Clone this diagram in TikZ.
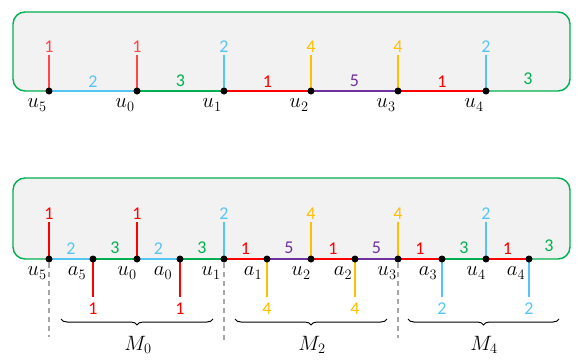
\documentclass[tikz,border=0pt]{standalone}
\usepackage{fontspec}
\newfontfamily\numfont{Carlito}
\usetikzlibrary{decorations.pathreplacing,calc}
\definecolor{cred}{HTML}{FF0000}
\definecolor{clred}{HTML}{FF4545}
\definecolor{cblue}{HTML}{55C6F2}
\definecolor{cgreen}{HTML}{00B050}
\definecolor{cgold}{HTML}{FFC000}
\definecolor{cpurple}{HTML}{7030A0}
\definecolor{cfill}{HTML}{F2F2F2}
\begin{document}
\begin{tikzpicture}[x=1pt,y=-1pt,
  panel/.style={draw=cgreen,fill=cfill,line width=1.4pt,rounded corners=12pt},
  edge/.style={line width=2pt},
  vtx/.style={circle,fill=black,inner sep=0pt,minimum size=7pt},
  num/.style={font=\numfont\fontsize{18}{21}\selectfont,inner sep=1pt},
  vlab/.style={font=\fontsize{19.5}{22}\selectfont,inner sep=0pt},
  sepline/.style={gray!70,line width=1.3pt,dash pattern=on 5pt off 4pt},
  brc/.style={decorate,decoration={brace,mirror,amplitude=6pt},line width=1pt}]
\useasboundingbox (0,0) rectangle (583,359);

% ---------- top panel ----------
\draw[panel] (13,91) rectangle (570,12);
\foreach \n/\x in {u5/49,u0/137,u1/224,u2/311,u3/398,u4/486}{
  \coordinate (T\n) at (\x,91);
  \coordinate (T\n s) at (\x,55);
}
\draw[edge,cblue] (Tu5) -- (Tu0) node[midway,above=2pt,num]{2};
\draw[edge,cgreen] (Tu0) -- (Tu1) node[midway,above=2pt,num]{3};
\draw[edge,cred] (Tu1) -- (Tu2) node[midway,above=2pt,num]{1};
\draw[edge,cpurple] (Tu2) -- (Tu3) node[midway,above=2pt,num]{5};
\draw[edge,cred] (Tu3) -- (Tu4) node[midway,above=2pt,num]{1};
\node[num,text=cgreen] (T3r) at (528,79) {3};
\foreach \n/\c/\l in {u5/clred/1,u0/clred/1,u1/cblue/2,u2/cgold/4,u3/cgold/4,u4/cblue/2}{
  \draw[edge,\c] (T\n) -- (T\n s) node[above=1pt,num,text=\c]{\l};
}
\foreach \n/\t in {u5/u_5,u0/u_0,u1/u_1,u2/u_2,u3/u_3,u4/u_4}{
  \node[vtx] (TV\n) at (T\n) {};
  \node[vlab] (TL\n) at ($(T\n)+(-12,14)$) {$\t$};
}

% ---------- bottom panel ----------
\draw[panel] (13,259) rectangle (570,178);
\foreach \n/\x in {u5/49,a5/93,u0/137,a0/180,u1/224,a1/267,u2/311,a2/355,u3/398,a3/442,u4/486,a4/529}{
  \coordinate (B\n) at (\x,259);
  \coordinate (B\n s) at (\x,222);
  \coordinate (B\n d) at (\x,297);
}
\foreach \a/\b/\c/\l in {u5/a5/cblue/2,a5/u0/cgreen/3,u0/a0/cblue/2,a0/u1/cgreen/3,u1/a1/cred/1,a1/u2/cpurple/5,u2/a2/cred/1,a2/u3/cpurple/5,u3/a3/cred/1,a3/u4/cgreen/3,u4/a4/cred/1}{
  \draw[edge,\c] (B\a) -- (B\b) node[midway,above=3pt,num,text=\c]{\l};
}
\node[num,text=cgreen] (B3r) at (549,246) {3};
\foreach \n/\c/\l in {u5/cred/1,u0/cred/1,u1/cblue/2,u2/cgold/4,u3/cgold/4,u4/cblue/2}{
  \draw[edge,\c] (B\n) -- (B\n s) node[above=1pt,num,text=\c]{\l};
}
\foreach \n/\c/\l in {a5/cred/1,a0/cred/1,a1/cgold/4,a2/cgold/4,a3/cblue/2,a4/cblue/2}{
  \draw[edge,\c] (B\n) -- (B\n d) node[below=4pt,num,text=\c]{\l};
}
% dashed separators
\coordinate (D5) at (49,337);
\coordinate (D1) at (224,342);
\coordinate (D3) at (398,338);
\draw[sepline] ($(Bu5)+(0,4)$) -- (D5);
\draw[sepline] ($(Bu1)+(0,4)$) -- (D1);
\draw[sepline] ($(Bu3)+(0,4)$) -- (D3);
\foreach \n/\t/\dx in {u5/u_5/-12,a5/a_5/-16,u0/u_0/-10,a0/a_0/-17,u1/u_1/-13,a1/a_1/-14,u2/u_2/-10,a2/a_2/-12,u3/u_3/-11,a3/a_3/-14,u4/u_4/-10,a4/a_4/-13}{
  \node[vtx] (BV\n) at (B\n) {};
  \node[vlab] (BL\n) at ($(B\n)+(\dx,14)$) {$\t$};
}
% braces
\coordinate (M0a) at (61,319); \coordinate (M0b) at (213,319);
\coordinate (M2a) at (235,319); \coordinate (M2b) at (387,319);
\coordinate (M4a) at (408,319); \coordinate (M4b) at (559,319);
\draw[brc] (M0a) -- (M0b);
\draw[brc] (M2a) -- (M2b);
\draw[brc] (M4a) -- (M4b);
\node[vlab] (M0) at (138,345) {$M_0$};
\node[vlab] (M2) at (312,345) {$M_2$};
\node[vlab] (M4) at (484,345) {$M_4$};
\end{tikzpicture}
\end{document}
